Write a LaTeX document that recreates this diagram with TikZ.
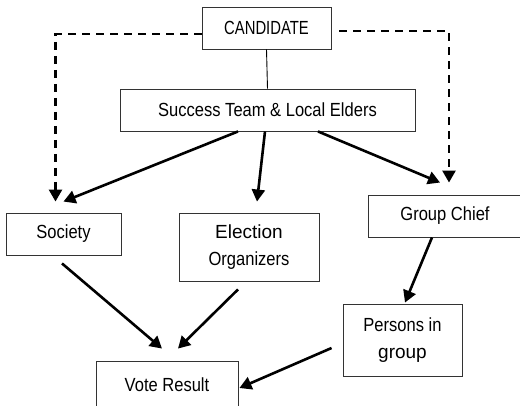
\documentclass[tikz,border=0pt]{standalone}
\usepackage{fontspec}
\setmainfont[FakeStretch=0.87]{Liberation Sans}
\newfontfamily\widefont{Liberation Sans}
\newfontfamily\capsfont[FakeStretch=0.78]{Liberation Sans}
\usetikzlibrary{arrows.meta,calc}
\tikzset{
  box/.style={draw=black!80, line width=.9pt, inner sep=0pt, align=center,
    font=\fontsize{19}{27}\selectfont},
  arr/.style={line width=2.6pt, -{Triangle[length=12pt,width=13pt]}},
  dasharr/.style={arr, dash pattern=on 8pt off 6pt}
}
\begin{document}
\begin{tikzpicture}[x=1pt, y=-1pt]
  \clip (0,0) rectangle (520,406);
  % boxes
  \node [box, minimum width=129pt, minimum height=42pt] (cand) at (266.5,28) {\capsfont CANDIDATE};
  \node [box, minimum width=295pt, minimum height=42pt] (team) at (267.5,110) {Success Team \& Local Elders};
  \node [box, minimum width=115pt, minimum height=42pt] (soc) at (63.5,234) {Society};
  \node [box, minimum width=140pt, minimum height=68pt] (elec) at (249,247)
    {{\widefont Election}\\ Organizers};
  \node [box, minimum width=154pt, minimum height=42pt] (chief) at (445,216) {Group Chief};
  \node [box, minimum width=119pt, minimum height=72pt] (pers) at (402.5,340)
    {Persons in\\ {\widefont group}};
  \node [box, minimum width=142pt, minimum height=48pt, text depth=0pt] (vote) at (167,385) {Vote Result};
  % connectors
  \draw [line width=.9pt] (cand.south) -- (team.north);
  \draw [dasharr] ($(cand.west)+(0,6)$) -| ($(soc.north)+(-8,-11)$);
  \draw [dasharr] ($(cand.east)+(8,3)$) -| ($(chief.north)+(4,-12)$);
  \draw [arr] ($(team.south)+(-29.5,0)$) -- ($(soc.north)+(0,-11)$);
  \draw [arr] ($(team.south)+(-2.5,0)$) -- ($(elec.north)+(8,-11)$);
  \draw [arr] ($(team.south)+(50.5,0)$) -- ($(chief.north)+(-5,-12)$);
  \draw [arr] ($(soc.south)+(-1.5,8)$) -- ($(vote.north)+(-5,-12)$);
  \draw [arr] ($(elec.south)+(-11,8)$) -- ($(vote.north)+(11,-12)$);
  \draw [arr] ($(chief.south)+(-13,0)$) -- ($(pers.north)+(2.5,-1)$);
  \draw [arr] ($(pers.west)+(-11,8)$) -- ($(vote.east)+(1,3)$);
\end{tikzpicture}
\end{document}
